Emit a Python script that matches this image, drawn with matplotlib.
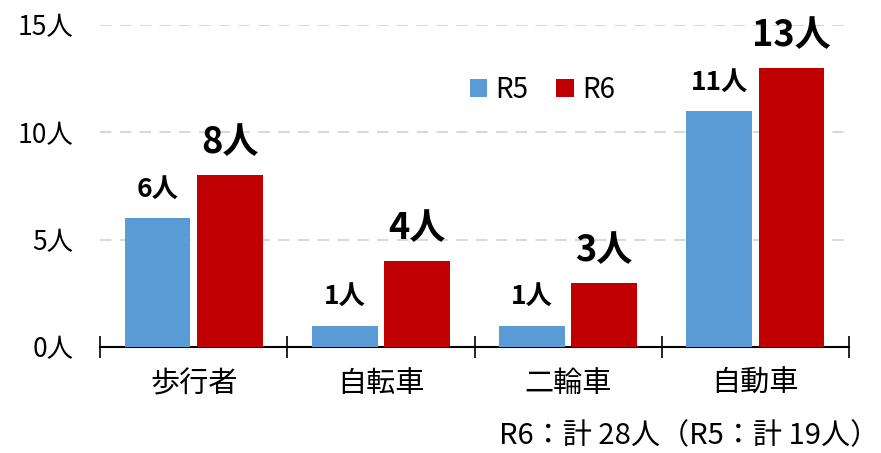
import matplotlib
matplotlib.use("Agg")
import matplotlib.pyplot as plt
import numpy as np

plt.rcParams['font.family'] = ['Noto Sans CJK JP', 'DejaVu Sans']

categories = ["歩行者", "自転車", "二輪車", "自動車"]
r5 = [6, 1, 1, 11]
r6 = [8, 4, 3, 13]
yticks = [0, 5, 10, 15]
ytick_labels = ["0人", "5人", "10人", "15人"]
footer = "R6：計 28人（R5：計 19人）"

blue = "#5b9bd5"
red = "#c00000"

fig = plt.figure(figsize=(8.81, 4.53), dpi=100)
ax = fig.add_axes([100/881, 1-347/453, 749/881, 322/453])

x = np.arange(len(categories))
width = 0.35
off = 0.193
b5 = ax.bar(x - off, r5, width, color=blue, label="R5", zorder=3)
b6 = ax.bar(x + off, r6, width, color=red, label="R6", zorder=3)

ax.set_xlim(-0.5, 3.5)
ax.set_ylim(0, 15)
ax.set_yticks(yticks)
ax.set_yticklabels(ytick_labels, fontsize=19)
ax.tick_params(axis='y', length=0, pad=19)
ax.yaxis.grid(True, color='#d9d9d9', linestyle=(0, (5.5, 4)), linewidth=1.5, zorder=0)

ax.set_xticks(x)
ax.set_xticklabels(categories, fontsize=21)
ax.tick_params(axis='x', which='major', length=0, pad=16)
ax.set_xticks(np.arange(-0.5, 4, 1), minor=True)
ax.tick_params(axis='x', which='minor', length=16, width=1.2, direction='inout', color='black')

for s in ['top', 'right', 'left']:
    ax.spines[s].set_visible(False)
ax.spines['bottom'].set_linewidth(1.5)

for rect, v in zip(b5, r5):
    ax.annotate(f"{v}人", (rect.get_x() + rect.get_width()/2, v), xytext=(0, 11),
                textcoords='offset points', ha='center', va='bottom',
                fontsize=19, fontweight='bold', zorder=5)
for rect, v in zip(b6, r6):
    ax.annotate(f"{v}人", (rect.get_x() + rect.get_width()/2, v), xytext=(0, 10),
                textcoords='offset points', ha='center', va='bottom',
                fontsize=26, fontweight='bold', zorder=5, annotation_clip=False)

ax.legend(loc='center left', bbox_to_anchor=((470-100)/749, (347-90)/322), frameon=False,
          ncol=2, fontsize=20, handlelength=0.62, handleheight=0.62,
          handletextpad=0.3, columnspacing=1.0, borderaxespad=0, borderpad=0)

fig.text(879/881, 1-436/453, footer, ha='right', va='center', fontsize=21)

fig.savefig("out.png", dpi=100)
